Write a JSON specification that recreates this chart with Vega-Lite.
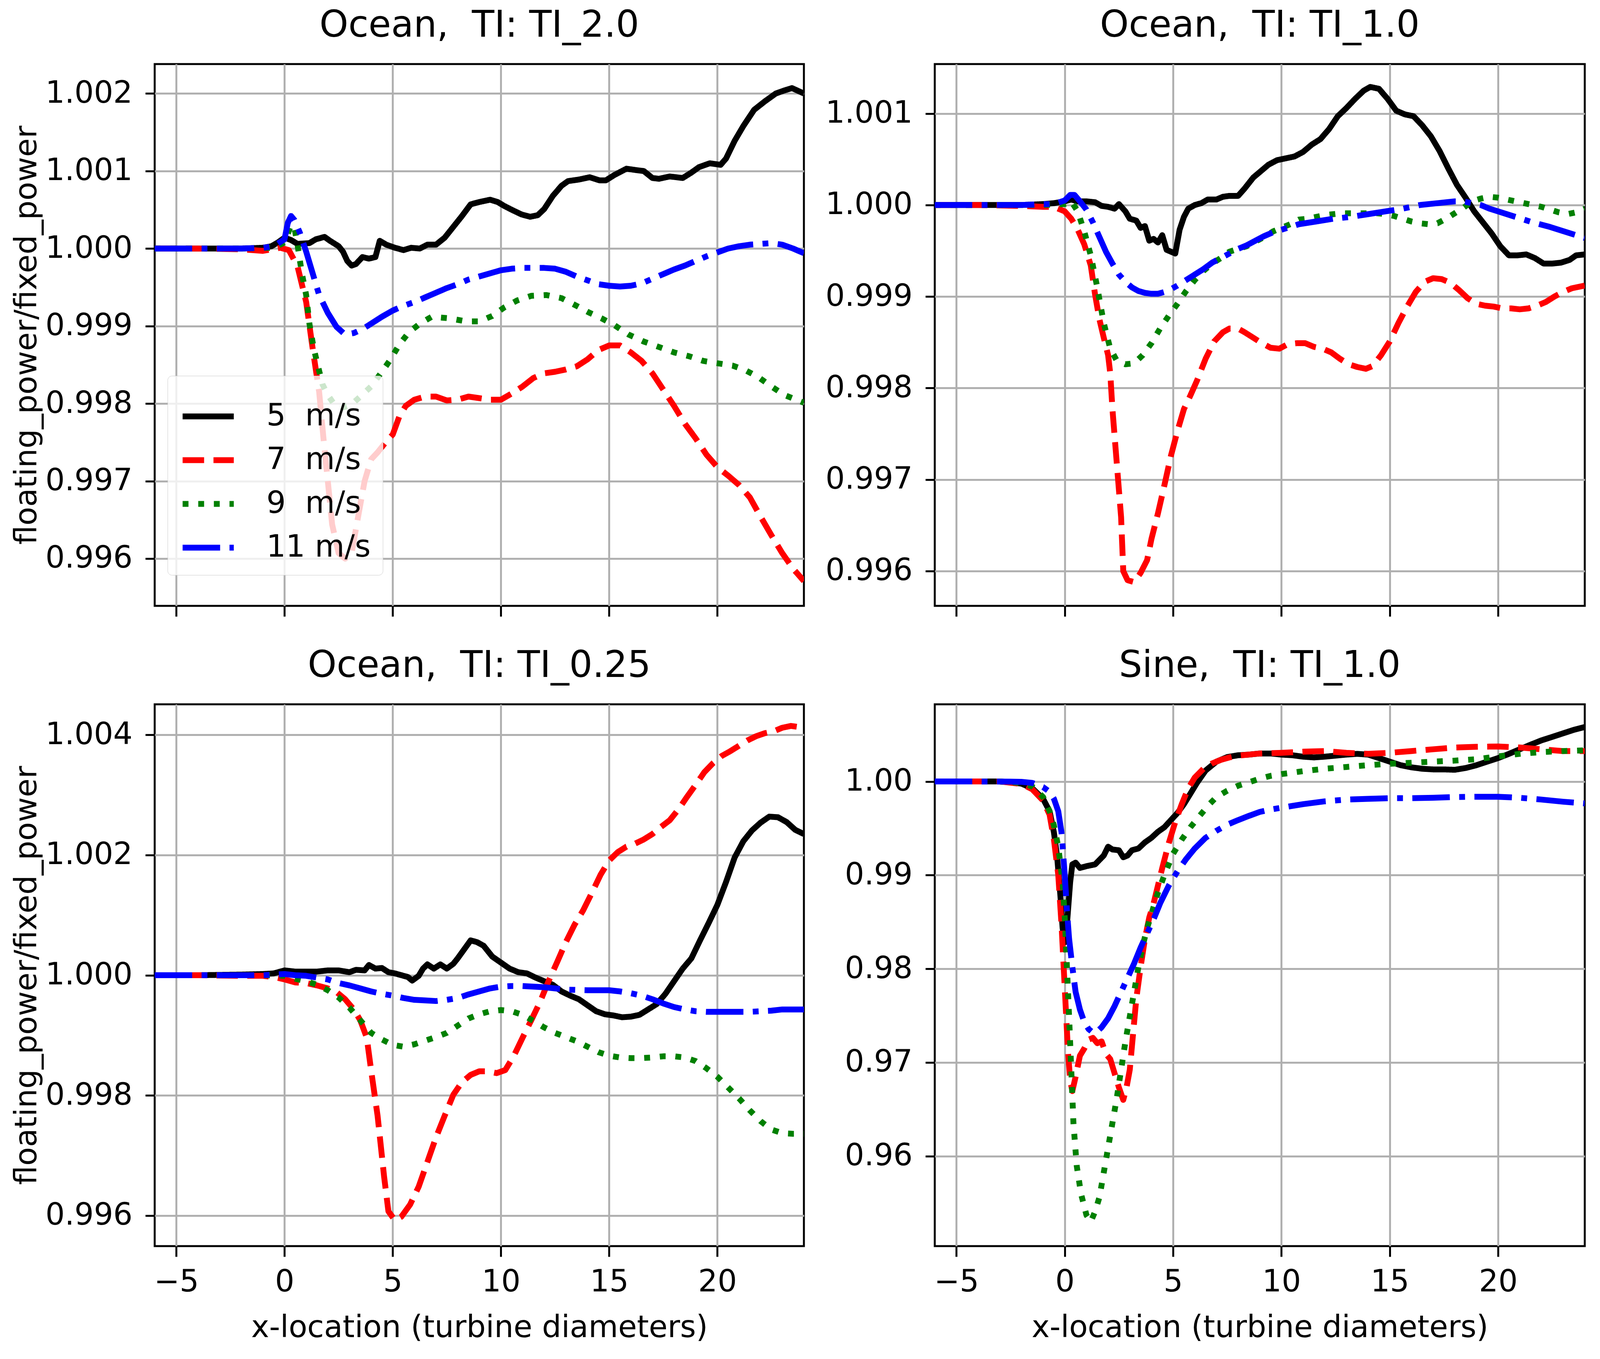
{
"$schema":"https://vega.github.io/schema/vega-lite/v6.json",
"background":"white",
"padding":{"left":27,"top":16,"right":30,"bottom":30},
"spacing":{"row":72,"column":49},
"columns":2,
"resolve":{"scale":{"color":"independent","strokeDash":"independent","x":"independent","y":"independent"},"legend":{"color":"independent","strokeDash":"independent"}},
"datasets":{"rows":[
{"p":"A","s":"5","x":-6,"y":1},{"p":"A","s":"5","x":-4,"y":1},{"p":"A","s":"5","x":-2,"y":1},{"p":"A","s":"5","x":-1,"y":1.00001},{"p":"A","s":"5","x":-0.6,"y":1.00003},{"p":"A","s":"5","x":-0.3,"y":1.00008},{"p":"A","s":"5","x":0,"y":1.00014},{"p":"A","s":"5","x":0.3,"y":1.00011},{"p":"A","s":"5","x":0.6,"y":1.00006},{"p":"A","s":"5","x":1.15,"y":1.00007},{"p":"A","s":"5","x":1.45,"y":1.00012},{"p":"A","s":"5","x":1.85,"y":1.00015},{"p":"A","s":"5","x":2.1,"y":1.0001},{"p":"A","s":"5","x":2.5,"y":1.00003},{"p":"A","s":"5","x":2.7,"y":0.99996},{"p":"A","s":"5","x":2.9,"y":0.99984},{"p":"A","s":"5","x":3.1,"y":0.99978},{"p":"A","s":"5","x":3.3,"y":0.9998},{"p":"A","s":"5","x":3.6,"y":0.99989},{"p":"A","s":"5","x":3.9,"y":0.99987},{"p":"A","s":"5","x":4.2,"y":0.99989},{"p":"A","s":"5","x":4.4,"y":1.0001},{"p":"A","s":"5","x":4.7,"y":1.00005},{"p":"A","s":"5","x":5.1,"y":1.00001},{"p":"A","s":"5","x":5.5,"y":0.99998},{"p":"A","s":"5","x":5.85,"y":1.00001},{"p":"A","s":"5","x":6.25,"y":1.0},{"p":"A","s":"5","x":6.6,"y":1.00005},{"p":"A","s":"5","x":7.0,"y":1.00005},{"p":"A","s":"5","x":7.4,"y":1.00014},{"p":"A","s":"5","x":7.8,"y":1.00028},{"p":"A","s":"5","x":8.2,"y":1.00042},{"p":"A","s":"5","x":8.6,"y":1.00057},{"p":"A","s":"5","x":9.0,"y":1.0006},{"p":"A","s":"5","x":9.5,"y":1.00063},{"p":"A","s":"5","x":9.85,"y":1.0006},{"p":"A","s":"5","x":10.15,"y":1.00055},{"p":"A","s":"5","x":10.5,"y":1.0005},{"p":"A","s":"5","x":10.95,"y":1.00044},{"p":"A","s":"5","x":11.35,"y":1.00041},{"p":"A","s":"5","x":11.7,"y":1.00043},{"p":"A","s":"5","x":12.0,"y":1.00051},{"p":"A","s":"5","x":12.4,"y":1.00068},{"p":"A","s":"5","x":12.8,"y":1.00081},{"p":"A","s":"5","x":13.1,"y":1.00087},{"p":"A","s":"5","x":13.6,"y":1.00089},{"p":"A","s":"5","x":14.1,"y":1.00092},{"p":"A","s":"5","x":14.55,"y":1.00088},{"p":"A","s":"5","x":14.85,"y":1.00088},{"p":"A","s":"5","x":15.25,"y":1.00095},{"p":"A","s":"5","x":15.8,"y":1.00103},{"p":"A","s":"5","x":16.3,"y":1.00101},{"p":"A","s":"5","x":16.6,"y":1.001},{"p":"A","s":"5","x":17.0,"y":1.00091},{"p":"A","s":"5","x":17.3,"y":1.0009},{"p":"A","s":"5","x":17.8,"y":1.00093},{"p":"A","s":"5","x":18.4,"y":1.00091},{"p":"A","s":"5","x":18.8,"y":1.00098},{"p":"A","s":"5","x":19.15,"y":1.00105},{"p":"A","s":"5","x":19.65,"y":1.0011},{"p":"A","s":"5","x":20.15,"y":1.00108},{"p":"A","s":"5","x":20.4,"y":1.00116},{"p":"A","s":"5","x":20.8,"y":1.00139},{"p":"A","s":"5","x":21.2,"y":1.00158},{"p":"A","s":"5","x":21.7,"y":1.00179},{"p":"A","s":"5","x":22.2,"y":1.0019},{"p":"A","s":"5","x":22.7,"y":1.002},{"p":"A","s":"5","x":23.1,"y":1.00204},{"p":"A","s":"5","x":23.45,"y":1.00207},{"p":"A","s":"5","x":24,"y":1.002},
{"p":"A","s":"7","x":-6,"y":1},{"p":"A","s":"7","x":-4,"y":1},{"p":"A","s":"7","x":-2,"y":0.99999},{"p":"A","s":"7","x":-1,"y":0.99997},{"p":"A","s":"7","x":-0.2,"y":1.00001},{"p":"A","s":"7","x":0.2,"y":0.99998},{"p":"A","s":"7","x":0.6,"y":0.99977},{"p":"A","s":"7","x":1.0,"y":0.99931},{"p":"A","s":"7","x":1.3,"y":0.99871},{"p":"A","s":"7","x":1.6,"y":0.99815},{"p":"A","s":"7","x":1.8,"y":0.99755},{"p":"A","s":"7","x":2.0,"y":0.997},{"p":"A","s":"7","x":2.2,"y":0.99644},{"p":"A","s":"7","x":2.5,"y":0.99607},{"p":"A","s":"7","x":2.8,"y":0.996},{"p":"A","s":"7","x":3.1,"y":0.99607},{"p":"A","s":"7","x":3.4,"y":0.99654},{"p":"A","s":"7","x":3.7,"y":0.997},{"p":"A","s":"7","x":4.0,"y":0.99728},{"p":"A","s":"7","x":4.3,"y":0.99737},{"p":"A","s":"7","x":4.7,"y":0.99751},{"p":"A","s":"7","x":5.0,"y":0.9976},{"p":"A","s":"7","x":5.3,"y":0.99783},{"p":"A","s":"7","x":5.6,"y":0.99797},{"p":"A","s":"7","x":6.0,"y":0.99805},{"p":"A","s":"7","x":6.5,"y":0.99809},{"p":"A","s":"7","x":7.0,"y":0.99809},{"p":"A","s":"7","x":7.5,"y":0.99804},{"p":"A","s":"7","x":8.0,"y":0.99805},{"p":"A","s":"7","x":8.5,"y":0.99809},{"p":"A","s":"7","x":9.0,"y":0.99807},{"p":"A","s":"7","x":9.5,"y":0.99805},{"p":"A","s":"7","x":10.0,"y":0.99805},{"p":"A","s":"7","x":10.5,"y":0.99813},{"p":"A","s":"7","x":11.0,"y":0.99822},{"p":"A","s":"7","x":11.5,"y":0.99833},{"p":"A","s":"7","x":12.0,"y":0.99839},{"p":"A","s":"7","x":12.5,"y":0.99841},{"p":"A","s":"7","x":13.0,"y":0.99844},{"p":"A","s":"7","x":13.5,"y":0.99848},{"p":"A","s":"7","x":14.0,"y":0.99857},{"p":"A","s":"7","x":14.5,"y":0.99869},{"p":"A","s":"7","x":15.0,"y":0.99875},{"p":"A","s":"7","x":15.5,"y":0.99875},{"p":"A","s":"7","x":16.0,"y":0.99866},{"p":"A","s":"7","x":16.5,"y":0.99855},{"p":"A","s":"7","x":17.0,"y":0.99839},{"p":"A","s":"7","x":17.5,"y":0.99818},{"p":"A","s":"7","x":18.0,"y":0.99797},{"p":"A","s":"7","x":18.5,"y":0.99774},{"p":"A","s":"7","x":19.0,"y":0.99755},{"p":"A","s":"7","x":19.5,"y":0.99734},{"p":"A","s":"7","x":20.0,"y":0.99718},{"p":"A","s":"7","x":20.5,"y":0.99707},{"p":"A","s":"7","x":21.0,"y":0.99695},{"p":"A","s":"7","x":21.5,"y":0.99679},{"p":"A","s":"7","x":22.0,"y":0.99654},{"p":"A","s":"7","x":22.5,"y":0.9963},{"p":"A","s":"7","x":23.0,"y":0.99607},{"p":"A","s":"7","x":23.5,"y":0.99587},{"p":"A","s":"7","x":24,"y":0.99571},
{"p":"A","s":"9","x":-6,"y":1},{"p":"A","s":"9","x":-4,"y":1},{"p":"A","s":"9","x":-2,"y":1},{"p":"A","s":"9","x":-0.5,"y":1.00001},{"p":"A","s":"9","x":0,"y":1.00008},{"p":"A","s":"9","x":0.3,"y":1.0003},{"p":"A","s":"9","x":0.45,"y":1.00028},{"p":"A","s":"9","x":0.6,"y":1.00005},{"p":"A","s":"9","x":0.8,"y":0.99968},{"p":"A","s":"9","x":1.0,"y":0.9994},{"p":"A","s":"9","x":1.15,"y":0.99903},{"p":"A","s":"9","x":1.35,"y":0.99871},{"p":"A","s":"9","x":1.55,"y":0.99848},{"p":"A","s":"9","x":1.75,"y":0.99825},{"p":"A","s":"9","x":2.0,"y":0.99811},{"p":"A","s":"9","x":2.3,"y":0.99799},{"p":"A","s":"9","x":2.7,"y":0.99795},{"p":"A","s":"9","x":3.1,"y":0.99799},{"p":"A","s":"9","x":3.5,"y":0.99809},{"p":"A","s":"9","x":4.0,"y":0.99822},{"p":"A","s":"9","x":4.5,"y":0.99841},{"p":"A","s":"9","x":4.9,"y":0.99857},{"p":"A","s":"9","x":5.3,"y":0.99876},{"p":"A","s":"9","x":5.75,"y":0.99892},{"p":"A","s":"9","x":6.25,"y":0.99903},{"p":"A","s":"9","x":6.8,"y":0.99912},{"p":"A","s":"9","x":7.6,"y":0.9991},{"p":"A","s":"9","x":8.4,"y":0.99906},{"p":"A","s":"9","x":9.0,"y":0.99906},{"p":"A","s":"9","x":9.6,"y":0.99913},{"p":"A","s":"9","x":10.15,"y":0.99924},{"p":"A","s":"9","x":10.75,"y":0.99933},{"p":"A","s":"9","x":11.4,"y":0.99939},{"p":"A","s":"9","x":12.1,"y":0.9994},{"p":"A","s":"9","x":12.8,"y":0.99936},{"p":"A","s":"9","x":13.5,"y":0.99926},{"p":"A","s":"9","x":14.1,"y":0.99917},{"p":"A","s":"9","x":14.65,"y":0.9991},{"p":"A","s":"9","x":15.25,"y":0.99901},{"p":"A","s":"9","x":15.9,"y":0.99889},{"p":"A","s":"9","x":16.6,"y":0.9988},{"p":"A","s":"9","x":17.3,"y":0.99873},{"p":"A","s":"9","x":18.0,"y":0.99866},{"p":"A","s":"9","x":18.7,"y":0.99861},{"p":"A","s":"9","x":19.35,"y":0.99855},{"p":"A","s":"9","x":20.0,"y":0.99852},{"p":"A","s":"9","x":20.7,"y":0.99849},{"p":"A","s":"9","x":21.3,"y":0.99843},{"p":"A","s":"9","x":21.9,"y":0.99834},{"p":"A","s":"9","x":22.5,"y":0.99822},{"p":"A","s":"9","x":23.1,"y":0.99811},{"p":"A","s":"9","x":24,"y":0.99801},
{"p":"A","s":"11","x":-6,"y":1},{"p":"A","s":"11","x":-4,"y":1},{"p":"A","s":"11","x":-2,"y":1},{"p":"A","s":"11","x":-1,"y":1.00001},{"p":"A","s":"11","x":-0.5,"y":1.00003},{"p":"A","s":"11","x":0,"y":1.00012},{"p":"A","s":"11","x":0.15,"y":1.00033},{"p":"A","s":"11","x":0.3,"y":1.00042},{"p":"A","s":"11","x":0.45,"y":1.00037},{"p":"A","s":"11","x":0.7,"y":1.00021},{"p":"A","s":"11","x":1.0,"y":0.99996},{"p":"A","s":"11","x":1.3,"y":0.99968},{"p":"A","s":"11","x":1.6,"y":0.9994},{"p":"A","s":"11","x":2.0,"y":0.99917},{"p":"A","s":"11","x":2.4,"y":0.99899},{"p":"A","s":"11","x":2.8,"y":0.99889},{"p":"A","s":"11","x":3.2,"y":0.99891},{"p":"A","s":"11","x":3.6,"y":0.99896},{"p":"A","s":"11","x":4.0,"y":0.99903},{"p":"A","s":"11","x":4.5,"y":0.99912},{"p":"A","s":"11","x":5.0,"y":0.9992},{"p":"A","s":"11","x":5.5,"y":0.99926},{"p":"A","s":"11","x":6.0,"y":0.99931},{"p":"A","s":"11","x":6.5,"y":0.99937},{"p":"A","s":"11","x":7.0,"y":0.99943},{"p":"A","s":"11","x":7.5,"y":0.99949},{"p":"A","s":"11","x":8.0,"y":0.99954},{"p":"A","s":"11","x":8.5,"y":0.9996},{"p":"A","s":"11","x":9.0,"y":0.99964},{"p":"A","s":"11","x":9.5,"y":0.99968},{"p":"A","s":"11","x":10.0,"y":0.99972},{"p":"A","s":"11","x":10.5,"y":0.99974},{"p":"A","s":"11","x":11.0,"y":0.99975},{"p":"A","s":"11","x":12.0,"y":0.99975},{"p":"A","s":"11","x":12.5,"y":0.99974},{"p":"A","s":"11","x":13.0,"y":0.9997},{"p":"A","s":"11","x":13.5,"y":0.99964},{"p":"A","s":"11","x":14.0,"y":0.99959},{"p":"A","s":"11","x":14.5,"y":0.99954},{"p":"A","s":"11","x":15.0,"y":0.99952},{"p":"A","s":"11","x":15.5,"y":0.99951},{"p":"A","s":"11","x":16.0,"y":0.99952},{"p":"A","s":"11","x":16.5,"y":0.99955},{"p":"A","s":"11","x":17.0,"y":0.99961},{"p":"A","s":"11","x":17.5,"y":0.99967},{"p":"A","s":"11","x":18.0,"y":0.99973},{"p":"A","s":"11","x":18.5,"y":0.99978},{"p":"A","s":"11","x":19.0,"y":0.99984},{"p":"A","s":"11","x":19.5,"y":0.9999},{"p":"A","s":"11","x":20.0,"y":0.99995},{"p":"A","s":"11","x":20.5,"y":1.0},{"p":"A","s":"11","x":21.0,"y":1.00003},{"p":"A","s":"11","x":21.5,"y":1.00005},{"p":"A","s":"11","x":22.0,"y":1.00006},{"p":"A","s":"11","x":22.5,"y":1.00007},{"p":"A","s":"11","x":23.0,"y":1.00005},{"p":"A","s":"11","x":23.5,"y":1.0},{"p":"A","s":"11","x":24,"y":0.99994},
{"p":"B","s":"5","x":-6,"y":1},{"p":"B","s":"5","x":-4,"y":1},{"p":"B","s":"5","x":-2,"y":1},{"p":"B","s":"5","x":-1,"y":1.00001},{"p":"B","s":"5","x":-0.5,"y":1.00002},{"p":"B","s":"5","x":0,"y":1.00004},{"p":"B","s":"5","x":0.3,"y":1.00006},{"p":"B","s":"5","x":0.6,"y":1.00004},{"p":"B","s":"5","x":1.0,"y":1.00004},{"p":"B","s":"5","x":1.4,"y":1.00003},{"p":"B","s":"5","x":1.7,"y":0.99999},{"p":"B","s":"5","x":2.0,"y":0.99998},{"p":"B","s":"5","x":2.3,"y":0.99996},{"p":"B","s":"5","x":2.5,"y":1.00001},{"p":"B","s":"5","x":2.8,"y":0.99993},{"p":"B","s":"5","x":3.0,"y":0.99985},{"p":"B","s":"5","x":3.3,"y":0.99983},{"p":"B","s":"5","x":3.5,"y":0.99975},{"p":"B","s":"5","x":3.7,"y":0.99977},{"p":"B","s":"5","x":3.9,"y":0.99961},{"p":"B","s":"5","x":4.1,"y":0.99963},{"p":"B","s":"5","x":4.3,"y":0.99959},{"p":"B","s":"5","x":4.5,"y":0.99967},{"p":"B","s":"5","x":4.7,"y":0.99951},{"p":"B","s":"5","x":4.9,"y":0.99949},{"p":"B","s":"5","x":5.1,"y":0.99947},{"p":"B","s":"5","x":5.3,"y":0.99973},{"p":"B","s":"5","x":5.5,"y":0.99987},{"p":"B","s":"5","x":5.7,"y":0.99996},{"p":"B","s":"5","x":6.0,"y":1.0},{"p":"B","s":"5","x":6.3,"y":1.00002},{"p":"B","s":"5","x":6.6,"y":1.00006},{"p":"B","s":"5","x":7.0,"y":1.00006},{"p":"B","s":"5","x":7.3,"y":1.00009},{"p":"B","s":"5","x":7.6,"y":1.0001},{"p":"B","s":"5","x":8.0,"y":1.0001},{"p":"B","s":"5","x":8.3,"y":1.00018},{"p":"B","s":"5","x":8.7,"y":1.0003},{"p":"B","s":"5","x":9.0,"y":1.00036},{"p":"B","s":"5","x":9.4,"y":1.00044},{"p":"B","s":"5","x":9.8,"y":1.00049},{"p":"B","s":"5","x":10.2,"y":1.00051},{"p":"B","s":"5","x":10.6,"y":1.00053},{"p":"B","s":"5","x":11.0,"y":1.00058},{"p":"B","s":"5","x":11.4,"y":1.00066},{"p":"B","s":"5","x":11.8,"y":1.00072},{"p":"B","s":"5","x":12.2,"y":1.00083},{"p":"B","s":"5","x":12.6,"y":1.00097},{"p":"B","s":"5","x":13.0,"y":1.00106},{"p":"B","s":"5","x":13.4,"y":1.00116},{"p":"B","s":"5","x":13.8,"y":1.00125},{"p":"B","s":"5","x":14.1,"y":1.00129},{"p":"B","s":"5","x":14.5,"y":1.00127},{"p":"B","s":"5","x":14.9,"y":1.00116},{"p":"B","s":"5","x":15.3,"y":1.00103},{"p":"B","s":"5","x":15.7,"y":1.00099},{"p":"B","s":"5","x":16.1,"y":1.00097},{"p":"B","s":"5","x":16.5,"y":1.00087},{"p":"B","s":"5","x":16.9,"y":1.00075},{"p":"B","s":"5","x":17.3,"y":1.00059},{"p":"B","s":"5","x":17.7,"y":1.0004},{"p":"B","s":"5","x":18.1,"y":1.00022},{"p":"B","s":"5","x":18.5,"y":1.00008},{"p":"B","s":"5","x":18.9,"y":0.99993},{"p":"B","s":"5","x":19.3,"y":0.99981},{"p":"B","s":"5","x":19.7,"y":0.99969},{"p":"B","s":"5","x":20.1,"y":0.99955},{"p":"B","s":"5","x":20.5,"y":0.99945},{"p":"B","s":"5","x":20.9,"y":0.99945},{"p":"B","s":"5","x":21.3,"y":0.99946},{"p":"B","s":"5","x":21.7,"y":0.99942},{"p":"B","s":"5","x":22.1,"y":0.99936},{"p":"B","s":"5","x":22.5,"y":0.99936},{"p":"B","s":"5","x":22.9,"y":0.99937},{"p":"B","s":"5","x":23.3,"y":0.9994},{"p":"B","s":"5","x":23.6,"y":0.99945},{"p":"B","s":"5","x":24,"y":0.99946},
{"p":"B","s":"7","x":-6,"y":1},{"p":"B","s":"7","x":-4,"y":1},{"p":"B","s":"7","x":-2,"y":0.99999},{"p":"B","s":"7","x":-1,"y":0.99998},{"p":"B","s":"7","x":-0.5,"y":0.99998},{"p":"B","s":"7","x":0,"y":0.99993},{"p":"B","s":"7","x":0.3,"y":0.99985},{"p":"B","s":"7","x":0.6,"y":0.99973},{"p":"B","s":"7","x":0.9,"y":0.99957},{"p":"B","s":"7","x":1.2,"y":0.99934},{"p":"B","s":"7","x":1.4,"y":0.99902},{"p":"B","s":"7","x":1.6,"y":0.99875},{"p":"B","s":"7","x":1.8,"y":0.99855},{"p":"B","s":"7","x":2.0,"y":0.99836},{"p":"B","s":"7","x":2.1,"y":0.99816},{"p":"B","s":"7","x":2.2,"y":0.99777},{"p":"B","s":"7","x":2.4,"y":0.99718},{"p":"B","s":"7","x":2.6,"y":0.99659},{"p":"B","s":"7","x":2.7,"y":0.996},{"p":"B","s":"7","x":2.9,"y":0.9959},{"p":"B","s":"7","x":3.2,"y":0.99588},{"p":"B","s":"7","x":3.5,"y":0.99598},{"p":"B","s":"7","x":3.8,"y":0.99612},{"p":"B","s":"7","x":4.0,"y":0.99635},{"p":"B","s":"7","x":4.3,"y":0.99663},{"p":"B","s":"7","x":4.6,"y":0.99694},{"p":"B","s":"7","x":4.9,"y":0.99726},{"p":"B","s":"7","x":5.2,"y":0.99753},{"p":"B","s":"7","x":5.5,"y":0.99777},{"p":"B","s":"7","x":5.8,"y":0.99792},{"p":"B","s":"7","x":6.1,"y":0.99808},{"p":"B","s":"7","x":6.5,"y":0.99832},{"p":"B","s":"7","x":6.9,"y":0.99851},{"p":"B","s":"7","x":7.3,"y":0.99861},{"p":"B","s":"7","x":7.6,"y":0.99865},{"p":"B","s":"7","x":8.0,"y":0.99865},{"p":"B","s":"7","x":8.3,"y":0.99861},{"p":"B","s":"7","x":8.7,"y":0.99855},{"p":"B","s":"7","x":9.1,"y":0.99849},{"p":"B","s":"7","x":9.5,"y":0.99844},{"p":"B","s":"7","x":9.9,"y":0.99843},{"p":"B","s":"7","x":10.3,"y":0.99848},{"p":"B","s":"7","x":10.7,"y":0.99849},{"p":"B","s":"7","x":11.1,"y":0.99849},{"p":"B","s":"7","x":11.5,"y":0.99845},{"p":"B","s":"7","x":11.9,"y":0.99843},{"p":"B","s":"7","x":12.3,"y":0.99839},{"p":"B","s":"7","x":12.7,"y":0.99832},{"p":"B","s":"7","x":13.1,"y":0.99826},{"p":"B","s":"7","x":13.5,"y":0.99823},{"p":"B","s":"7","x":13.9,"y":0.99821},{"p":"B","s":"7","x":14.2,"y":0.99824},{"p":"B","s":"7","x":14.6,"y":0.99836},{"p":"B","s":"7","x":15.0,"y":0.99851},{"p":"B","s":"7","x":15.4,"y":0.99871},{"p":"B","s":"7","x":15.8,"y":0.99889},{"p":"B","s":"7","x":16.2,"y":0.99905},{"p":"B","s":"7","x":16.6,"y":0.99916},{"p":"B","s":"7","x":17.0,"y":0.9992},{"p":"B","s":"7","x":17.4,"y":0.99919},{"p":"B","s":"7","x":17.8,"y":0.99915},{"p":"B","s":"7","x":18.2,"y":0.99907},{"p":"B","s":"7","x":18.6,"y":0.99898},{"p":"B","s":"7","x":19.0,"y":0.99892},{"p":"B","s":"7","x":19.4,"y":0.9989},{"p":"B","s":"7","x":19.8,"y":0.99889},{"p":"B","s":"7","x":20.2,"y":0.99887},{"p":"B","s":"7","x":20.6,"y":0.99887},{"p":"B","s":"7","x":21.0,"y":0.99886},{"p":"B","s":"7","x":21.4,"y":0.99887},{"p":"B","s":"7","x":21.8,"y":0.9989},{"p":"B","s":"7","x":22.2,"y":0.99894},{"p":"B","s":"7","x":22.6,"y":0.999},{"p":"B","s":"7","x":23.0,"y":0.99905},{"p":"B","s":"7","x":23.4,"y":0.99909},{"p":"B","s":"7","x":24,"y":0.99912},
{"p":"B","s":"9","x":-6,"y":1},{"p":"B","s":"9","x":-4,"y":1},{"p":"B","s":"9","x":-2,"y":1},{"p":"B","s":"9","x":-1,"y":1},{"p":"B","s":"9","x":0,"y":1.00001},{"p":"B","s":"9","x":0.3,"y":1.00004},{"p":"B","s":"9","x":0.6,"y":0.99993},{"p":"B","s":"9","x":0.9,"y":0.99971},{"p":"B","s":"9","x":1.2,"y":0.99945},{"p":"B","s":"9","x":1.5,"y":0.9991},{"p":"B","s":"9","x":1.8,"y":0.99871},{"p":"B","s":"9","x":2.1,"y":0.99843},{"p":"B","s":"9","x":2.4,"y":0.9983},{"p":"B","s":"9","x":2.8,"y":0.99826},{"p":"B","s":"9","x":3.2,"y":0.99827},{"p":"B","s":"9","x":3.6,"y":0.99836},{"p":"B","s":"9","x":4.0,"y":0.99849},{"p":"B","s":"9","x":4.4,"y":0.99865},{"p":"B","s":"9","x":4.8,"y":0.99879},{"p":"B","s":"9","x":5.2,"y":0.99892},{"p":"B","s":"9","x":5.6,"y":0.99906},{"p":"B","s":"9","x":6.0,"y":0.99918},{"p":"B","s":"9","x":6.4,"y":0.99928},{"p":"B","s":"9","x":6.8,"y":0.99936},{"p":"B","s":"9","x":7.2,"y":0.99942},{"p":"B","s":"9","x":7.6,"y":0.99949},{"p":"B","s":"9","x":8.0,"y":0.99952},{"p":"B","s":"9","x":8.4,"y":0.99955},{"p":"B","s":"9","x":8.8,"y":0.9996},{"p":"B","s":"9","x":9.2,"y":0.99965},{"p":"B","s":"9","x":9.6,"y":0.99971},{"p":"B","s":"9","x":10.0,"y":0.99975},{"p":"B","s":"9","x":10.4,"y":0.99979},{"p":"B","s":"9","x":10.8,"y":0.99984},{"p":"B","s":"9","x":11.2,"y":0.99985},{"p":"B","s":"9","x":11.6,"y":0.99987},{"p":"B","s":"9","x":12.0,"y":0.99989},{"p":"B","s":"9","x":12.8,"y":0.99991},{"p":"B","s":"9","x":13.6,"y":0.99991},{"p":"B","s":"9","x":14.4,"y":0.99991},{"p":"B","s":"9","x":14.8,"y":0.9999},{"p":"B","s":"9","x":15.2,"y":0.99988},{"p":"B","s":"9","x":15.6,"y":0.99985},{"p":"B","s":"9","x":16.0,"y":0.99982},{"p":"B","s":"9","x":16.4,"y":0.9998},{"p":"B","s":"9","x":16.8,"y":0.99979},{"p":"B","s":"9","x":17.2,"y":0.9998},{"p":"B","s":"9","x":17.6,"y":0.99985},{"p":"B","s":"9","x":18.0,"y":0.99991},{"p":"B","s":"9","x":18.4,"y":0.99997},{"p":"B","s":"9","x":18.8,"y":1.00004},{"p":"B","s":"9","x":19.2,"y":1.00007},{"p":"B","s":"9","x":19.6,"y":1.00009},{"p":"B","s":"9","x":20.0,"y":1.00008},{"p":"B","s":"9","x":20.4,"y":1.00006},{"p":"B","s":"9","x":20.8,"y":1.00004},{"p":"B","s":"9","x":21.2,"y":1.00002},{"p":"B","s":"9","x":21.6,"y":1.0},{"p":"B","s":"9","x":22.0,"y":0.99998},{"p":"B","s":"9","x":22.4,"y":0.99995},{"p":"B","s":"9","x":22.8,"y":0.99992},{"p":"B","s":"9","x":23.2,"y":0.9999},{"p":"B","s":"9","x":23.6,"y":0.99992},{"p":"B","s":"9","x":24,"y":0.99996},
{"p":"B","s":"11","x":-6,"y":1},{"p":"B","s":"11","x":-4,"y":1},{"p":"B","s":"11","x":-2,"y":1},{"p":"B","s":"11","x":-1,"y":1.00001},{"p":"B","s":"11","x":-0.5,"y":1.00001},{"p":"B","s":"11","x":0,"y":1.00005},{"p":"B","s":"11","x":0.25,"y":1.00011},{"p":"B","s":"11","x":0.45,"y":1.00011},{"p":"B","s":"11","x":0.7,"y":1.00004},{"p":"B","s":"11","x":1.0,"y":0.99995},{"p":"B","s":"11","x":1.3,"y":0.99981},{"p":"B","s":"11","x":1.6,"y":0.99965},{"p":"B","s":"11","x":1.9,"y":0.99949},{"p":"B","s":"11","x":2.2,"y":0.99936},{"p":"B","s":"11","x":2.5,"y":0.99924},{"p":"B","s":"11","x":2.8,"y":0.99916},{"p":"B","s":"11","x":3.1,"y":0.9991},{"p":"B","s":"11","x":3.4,"y":0.99906},{"p":"B","s":"11","x":3.7,"y":0.99904},{"p":"B","s":"11","x":4.0,"y":0.99903},{"p":"B","s":"11","x":4.3,"y":0.99903},{"p":"B","s":"11","x":4.6,"y":0.99905},{"p":"B","s":"11","x":4.9,"y":0.99908},{"p":"B","s":"11","x":5.2,"y":0.99912},{"p":"B","s":"11","x":5.6,"y":0.99918},{"p":"B","s":"11","x":6.0,"y":0.99924},{"p":"B","s":"11","x":6.4,"y":0.9993},{"p":"B","s":"11","x":6.8,"y":0.99937},{"p":"B","s":"11","x":7.2,"y":0.99942},{"p":"B","s":"11","x":7.6,"y":0.99947},{"p":"B","s":"11","x":8.0,"y":0.99952},{"p":"B","s":"11","x":8.4,"y":0.99956},{"p":"B","s":"11","x":8.8,"y":0.99961},{"p":"B","s":"11","x":9.2,"y":0.99966},{"p":"B","s":"11","x":9.6,"y":0.9997},{"p":"B","s":"11","x":10.0,"y":0.99973},{"p":"B","s":"11","x":10.8,"y":0.99979},{"p":"B","s":"11","x":11.6,"y":0.99982},{"p":"B","s":"11","x":12.4,"y":0.99985},{"p":"B","s":"11","x":13.2,"y":0.99987},{"p":"B","s":"11","x":14.0,"y":0.9999},{"p":"B","s":"11","x":14.8,"y":0.99993},{"p":"B","s":"11","x":15.6,"y":0.99996},{"p":"B","s":"11","x":16.4,"y":1.0},{"p":"B","s":"11","x":17.2,"y":1.00002},{"p":"B","s":"11","x":18.0,"y":1.00004},{"p":"B","s":"11","x":18.4,"y":1.00004},{"p":"B","s":"11","x":18.8,"y":1.00002},{"p":"B","s":"11","x":19.2,"y":1.0},{"p":"B","s":"11","x":19.6,"y":0.99996},{"p":"B","s":"11","x":20.0,"y":0.99993},{"p":"B","s":"11","x":20.8,"y":0.99987},{"p":"B","s":"11","x":21.6,"y":0.99981},{"p":"B","s":"11","x":22.4,"y":0.99976},{"p":"B","s":"11","x":23.2,"y":0.9997},{"p":"B","s":"11","x":24,"y":0.99964},
{"p":"C","s":"5","x":-6,"y":1},{"p":"C","s":"5","x":-4,"y":1},{"p":"C","s":"5","x":-2,"y":1.00001},{"p":"C","s":"5","x":-1,"y":1.00002},{"p":"C","s":"5","x":-0.5,"y":1.00003},{"p":"C","s":"5","x":0,"y":1.00008},{"p":"C","s":"5","x":0.5,"y":1.00006},{"p":"C","s":"5","x":1.0,"y":1.00006},{"p":"C","s":"5","x":1.5,"y":1.00006},{"p":"C","s":"5","x":2.0,"y":1.00008},{"p":"C","s":"5","x":2.5,"y":1.00008},{"p":"C","s":"5","x":3.0,"y":1.00005},{"p":"C","s":"5","x":3.3,"y":1.00009},{"p":"C","s":"5","x":3.7,"y":1.00008},{"p":"C","s":"5","x":3.9,"y":1.00017},{"p":"C","s":"5","x":4.2,"y":1.00011},{"p":"C","s":"5","x":4.5,"y":1.00012},{"p":"C","s":"5","x":4.8,"y":1.00005},{"p":"C","s":"5","x":5.1,"y":1.00003},{"p":"C","s":"5","x":5.4,"y":1.0},{"p":"C","s":"5","x":5.7,"y":0.99997},{"p":"C","s":"5","x":5.9,"y":0.99991},{"p":"C","s":"5","x":6.2,"y":0.99999},{"p":"C","s":"5","x":6.4,"y":1.00011},{"p":"C","s":"5","x":6.6,"y":1.00018},{"p":"C","s":"5","x":6.9,"y":1.00011},{"p":"C","s":"5","x":7.2,"y":1.00018},{"p":"C","s":"5","x":7.5,"y":1.00011},{"p":"C","s":"5","x":7.8,"y":1.00019},{"p":"C","s":"5","x":8.0,"y":1.00028},{"p":"C","s":"5","x":8.3,"y":1.00043},{"p":"C","s":"5","x":8.6,"y":1.00058},{"p":"C","s":"5","x":8.9,"y":1.00055},{"p":"C","s":"5","x":9.2,"y":1.00049},{"p":"C","s":"5","x":9.6,"y":1.00031},{"p":"C","s":"5","x":10.0,"y":1.00021},{"p":"C","s":"5","x":10.4,"y":1.00011},{"p":"C","s":"5","x":10.8,"y":1.00005},{"p":"C","s":"5","x":11.2,"y":1.00003},{"p":"C","s":"5","x":11.6,"y":0.99996},{"p":"C","s":"5","x":12.0,"y":0.9999},{"p":"C","s":"5","x":12.4,"y":0.99984},{"p":"C","s":"5","x":12.8,"y":0.99973},{"p":"C","s":"5","x":13.2,"y":0.99966},{"p":"C","s":"5","x":13.6,"y":0.9996},{"p":"C","s":"5","x":14.0,"y":0.9995},{"p":"C","s":"5","x":14.4,"y":0.9994},{"p":"C","s":"5","x":14.8,"y":0.99935},{"p":"C","s":"5","x":15.2,"y":0.99933},{"p":"C","s":"5","x":15.6,"y":0.9993},{"p":"C","s":"5","x":16.0,"y":0.99931},{"p":"C","s":"5","x":16.4,"y":0.99934},{"p":"C","s":"5","x":16.8,"y":0.99943},{"p":"C","s":"5","x":17.2,"y":0.99952},{"p":"C","s":"5","x":17.6,"y":0.99969},{"p":"C","s":"5","x":18.0,"y":0.9999},{"p":"C","s":"5","x":18.4,"y":1.00011},{"p":"C","s":"5","x":18.8,"y":1.00028},{"p":"C","s":"5","x":19.2,"y":1.00058},{"p":"C","s":"5","x":19.6,"y":1.00087},{"p":"C","s":"5","x":20.0,"y":1.00117},{"p":"C","s":"5","x":20.4,"y":1.00155},{"p":"C","s":"5","x":20.8,"y":1.00196},{"p":"C","s":"5","x":21.2,"y":1.00223},{"p":"C","s":"5","x":21.6,"y":1.00241},{"p":"C","s":"5","x":22.0,"y":1.00254},{"p":"C","s":"5","x":22.4,"y":1.00264},{"p":"C","s":"5","x":22.8,"y":1.00263},{"p":"C","s":"5","x":23.2,"y":1.00255},{"p":"C","s":"5","x":23.6,"y":1.00242},{"p":"C","s":"5","x":24,"y":1.00235},
{"p":"C","s":"7","x":-6,"y":1},{"p":"C","s":"7","x":-4,"y":1},{"p":"C","s":"7","x":-2,"y":0.99999},{"p":"C","s":"7","x":-1,"y":0.99999},{"p":"C","s":"7","x":-0.5,"y":0.99997},{"p":"C","s":"7","x":0,"y":0.99993},{"p":"C","s":"7","x":0.5,"y":0.99988},{"p":"C","s":"7","x":1.0,"y":0.99987},{"p":"C","s":"7","x":1.5,"y":0.99983},{"p":"C","s":"7","x":2.0,"y":0.99978},{"p":"C","s":"7","x":2.4,"y":0.99972},{"p":"C","s":"7","x":2.8,"y":0.9996},{"p":"C","s":"7","x":3.2,"y":0.99943},{"p":"C","s":"7","x":3.5,"y":0.99925},{"p":"C","s":"7","x":3.8,"y":0.99896},{"p":"C","s":"7","x":4.0,"y":0.99842},{"p":"C","s":"7","x":4.3,"y":0.99766},{"p":"C","s":"7","x":4.6,"y":0.99665},{"p":"C","s":"7","x":4.8,"y":0.99607},{"p":"C","s":"7","x":5.1,"y":0.99592},{"p":"C","s":"7","x":5.4,"y":0.99598},{"p":"C","s":"7","x":5.8,"y":0.99618},{"p":"C","s":"7","x":6.2,"y":0.99648},{"p":"C","s":"7","x":6.6,"y":0.99689},{"p":"C","s":"7","x":7.0,"y":0.9973},{"p":"C","s":"7","x":7.4,"y":0.99766},{"p":"C","s":"7","x":7.8,"y":0.99801},{"p":"C","s":"7","x":8.2,"y":0.99822},{"p":"C","s":"7","x":8.6,"y":0.99834},{"p":"C","s":"7","x":9.0,"y":0.9984},{"p":"C","s":"7","x":9.4,"y":0.9984},{"p":"C","s":"7","x":9.8,"y":0.99837},{"p":"C","s":"7","x":10.2,"y":0.99842},{"p":"C","s":"7","x":10.6,"y":0.99866},{"p":"C","s":"7","x":11.0,"y":0.99896},{"p":"C","s":"7","x":11.4,"y":0.99925},{"p":"C","s":"7","x":11.8,"y":0.99955},{"p":"C","s":"7","x":12.2,"y":0.9999},{"p":"C","s":"7","x":12.6,"y":1.00022},{"p":"C","s":"7","x":13.0,"y":1.00055},{"p":"C","s":"7","x":13.4,"y":1.00084},{"p":"C","s":"7","x":13.8,"y":1.00108},{"p":"C","s":"7","x":14.2,"y":1.00137},{"p":"C","s":"7","x":14.6,"y":1.00167},{"p":"C","s":"7","x":15.0,"y":1.00191},{"p":"C","s":"7","x":15.4,"y":1.00205},{"p":"C","s":"7","x":15.8,"y":1.00214},{"p":"C","s":"7","x":16.2,"y":1.00219},{"p":"C","s":"7","x":16.6,"y":1.00226},{"p":"C","s":"7","x":17.0,"y":1.00235},{"p":"C","s":"7","x":17.4,"y":1.00247},{"p":"C","s":"7","x":17.8,"y":1.00258},{"p":"C","s":"7","x":18.2,"y":1.00276},{"p":"C","s":"7","x":18.6,"y":1.00297},{"p":"C","s":"7","x":19.0,"y":1.00317},{"p":"C","s":"7","x":19.4,"y":1.00338},{"p":"C","s":"7","x":19.8,"y":1.00353},{"p":"C","s":"7","x":20.2,"y":1.00365},{"p":"C","s":"7","x":20.6,"y":1.00373},{"p":"C","s":"7","x":21.0,"y":1.00382},{"p":"C","s":"7","x":21.4,"y":1.00391},{"p":"C","s":"7","x":21.8,"y":1.00398},{"p":"C","s":"7","x":22.2,"y":1.00403},{"p":"C","s":"7","x":22.6,"y":1.00406},{"p":"C","s":"7","x":23.0,"y":1.00412},{"p":"C","s":"7","x":23.4,"y":1.00415},{"p":"C","s":"7","x":24,"y":1.00412},
{"p":"C","s":"9","x":-6,"y":1},{"p":"C","s":"9","x":-4,"y":1},{"p":"C","s":"9","x":-2,"y":1},{"p":"C","s":"9","x":-1,"y":1},{"p":"C","s":"9","x":0,"y":0.99999},{"p":"C","s":"9","x":0.5,"y":0.99994},{"p":"C","s":"9","x":1.0,"y":0.9999},{"p":"C","s":"9","x":1.5,"y":0.99984},{"p":"C","s":"9","x":2.0,"y":0.99975},{"p":"C","s":"9","x":2.5,"y":0.99963},{"p":"C","s":"9","x":3.0,"y":0.99946},{"p":"C","s":"9","x":3.5,"y":0.99925},{"p":"C","s":"9","x":4.0,"y":0.99904},{"p":"C","s":"9","x":4.5,"y":0.99893},{"p":"C","s":"9","x":5.0,"y":0.99884},{"p":"C","s":"9","x":5.5,"y":0.99881},{"p":"C","s":"9","x":6.0,"y":0.99885},{"p":"C","s":"9","x":6.5,"y":0.99891},{"p":"C","s":"9","x":7.0,"y":0.99897},{"p":"C","s":"9","x":7.5,"y":0.99904},{"p":"C","s":"9","x":8.0,"y":0.99916},{"p":"C","s":"9","x":8.5,"y":0.99928},{"p":"C","s":"9","x":9.0,"y":0.99935},{"p":"C","s":"9","x":9.5,"y":0.9994},{"p":"C","s":"9","x":10.0,"y":0.99942},{"p":"C","s":"9","x":10.5,"y":0.9994},{"p":"C","s":"9","x":11.0,"y":0.99934},{"p":"C","s":"9","x":11.5,"y":0.99924},{"p":"C","s":"9","x":12.0,"y":0.99913},{"p":"C","s":"9","x":12.5,"y":0.99904},{"p":"C","s":"9","x":13.0,"y":0.99897},{"p":"C","s":"9","x":13.5,"y":0.9989},{"p":"C","s":"9","x":14.0,"y":0.99881},{"p":"C","s":"9","x":14.5,"y":0.99872},{"p":"C","s":"9","x":15.0,"y":0.99866},{"p":"C","s":"9","x":15.5,"y":0.99863},{"p":"C","s":"9","x":16.0,"y":0.99862},{"p":"C","s":"9","x":16.5,"y":0.99862},{"p":"C","s":"9","x":17.0,"y":0.99863},{"p":"C","s":"9","x":17.5,"y":0.99865},{"p":"C","s":"9","x":18.0,"y":0.99865},{"p":"C","s":"9","x":18.5,"y":0.99863},{"p":"C","s":"9","x":19.0,"y":0.99857},{"p":"C","s":"9","x":19.5,"y":0.99845},{"p":"C","s":"9","x":20.0,"y":0.99831},{"p":"C","s":"9","x":20.5,"y":0.99813},{"p":"C","s":"9","x":21.0,"y":0.99795},{"p":"C","s":"9","x":21.5,"y":0.99775},{"p":"C","s":"9","x":22.0,"y":0.99757},{"p":"C","s":"9","x":22.5,"y":0.99743},{"p":"C","s":"9","x":23.0,"y":0.99737},{"p":"C","s":"9","x":23.5,"y":0.99736},{"p":"C","s":"9","x":24,"y":0.99736},
{"p":"C","s":"11","x":-6,"y":1},{"p":"C","s":"11","x":-4,"y":1},{"p":"C","s":"11","x":-2,"y":1},{"p":"C","s":"11","x":-1,"y":1},{"p":"C","s":"11","x":-0.5,"y":1.00001},{"p":"C","s":"11","x":0,"y":1.00002},{"p":"C","s":"11","x":0.5,"y":1.0},{"p":"C","s":"11","x":1.0,"y":0.99999},{"p":"C","s":"11","x":1.5,"y":0.99996},{"p":"C","s":"11","x":2.0,"y":0.99993},{"p":"C","s":"11","x":2.5,"y":0.99987},{"p":"C","s":"11","x":3.0,"y":0.99983},{"p":"C","s":"11","x":3.5,"y":0.99978},{"p":"C","s":"11","x":4.0,"y":0.99973},{"p":"C","s":"11","x":4.5,"y":0.99969},{"p":"C","s":"11","x":5.0,"y":0.99966},{"p":"C","s":"11","x":5.5,"y":0.99962},{"p":"C","s":"11","x":6.0,"y":0.99959},{"p":"C","s":"11","x":6.5,"y":0.99958},{"p":"C","s":"11","x":7.0,"y":0.99957},{"p":"C","s":"11","x":7.5,"y":0.99959},{"p":"C","s":"11","x":8.0,"y":0.99962},{"p":"C","s":"11","x":8.5,"y":0.99968},{"p":"C","s":"11","x":9.0,"y":0.99973},{"p":"C","s":"11","x":9.5,"y":0.99978},{"p":"C","s":"11","x":10.0,"y":0.99981},{"p":"C","s":"11","x":10.5,"y":0.99982},{"p":"C","s":"11","x":11.0,"y":0.99982},{"p":"C","s":"11","x":11.5,"y":0.99981},{"p":"C","s":"11","x":12.0,"y":0.9998},{"p":"C","s":"11","x":12.5,"y":0.99978},{"p":"C","s":"11","x":13.0,"y":0.99976},{"p":"C","s":"11","x":14.0,"y":0.99975},{"p":"C","s":"11","x":15.0,"y":0.99975},{"p":"C","s":"11","x":15.5,"y":0.99973},{"p":"C","s":"11","x":16.0,"y":0.9997},{"p":"C","s":"11","x":16.5,"y":0.99966},{"p":"C","s":"11","x":17.0,"y":0.9996},{"p":"C","s":"11","x":17.5,"y":0.99953},{"p":"C","s":"11","x":18.0,"y":0.99947},{"p":"C","s":"11","x":18.5,"y":0.99943},{"p":"C","s":"11","x":19.0,"y":0.9994},{"p":"C","s":"11","x":19.5,"y":0.99939},{"p":"C","s":"11","x":20.5,"y":0.99939},{"p":"C","s":"11","x":21.5,"y":0.99939},{"p":"C","s":"11","x":22.5,"y":0.99941},{"p":"C","s":"11","x":23.0,"y":0.99943},{"p":"C","s":"11","x":24,"y":0.99943},
{"p":"D","s":"5","x":-6,"y":1},{"p":"D","s":"5","x":-4,"y":1},{"p":"D","s":"5","x":-3,"y":1},{"p":"D","s":"5","x":-2.5,"y":0.99992},{"p":"D","s":"5","x":-2,"y":0.99977},{"p":"D","s":"5","x":-1.5,"y":0.99928},{"p":"D","s":"5","x":-1,"y":0.99815},{"p":"D","s":"5","x":-0.7,"y":0.99682},{"p":"D","s":"5","x":-0.5,"y":0.99456},{"p":"D","s":"5","x":-0.35,"y":0.99191},{"p":"D","s":"5","x":-0.2,"y":0.98775},{"p":"D","s":"5","x":-0.1,"y":0.98435},{"p":"D","s":"5","x":0,"y":0.98283},{"p":"D","s":"5","x":0.1,"y":0.98472},{"p":"D","s":"5","x":0.25,"y":0.98926},{"p":"D","s":"5","x":0.35,"y":0.99115},{"p":"D","s":"5","x":0.5,"y":0.99134},{"p":"D","s":"5","x":0.7,"y":0.99077},{"p":"D","s":"5","x":1.0,"y":0.99096},{"p":"D","s":"5","x":1.4,"y":0.99115},{"p":"D","s":"5","x":1.8,"y":0.9921},{"p":"D","s":"5","x":2.0,"y":0.99304},{"p":"D","s":"5","x":2.2,"y":0.99274},{"p":"D","s":"5","x":2.5,"y":0.99266},{"p":"D","s":"5","x":2.7,"y":0.99191},{"p":"D","s":"5","x":2.9,"y":0.9921},{"p":"D","s":"5","x":3.1,"y":0.99266},{"p":"D","s":"5","x":3.4,"y":0.99285},{"p":"D","s":"5","x":3.7,"y":0.9935},{"p":"D","s":"5","x":4.0,"y":0.99399},{"p":"D","s":"5","x":4.3,"y":0.99463},{"p":"D","s":"5","x":4.6,"y":0.99512},{"p":"D","s":"5","x":4.9,"y":0.99588},{"p":"D","s":"5","x":5.2,"y":0.99663},{"p":"D","s":"5","x":5.5,"y":0.99758},{"p":"D","s":"5","x":5.8,"y":0.99871},{"p":"D","s":"5","x":6.1,"y":0.99985},{"p":"D","s":"5","x":6.5,"y":1.00117},{"p":"D","s":"5","x":7.0,"y":1.00212},{"p":"D","s":"5","x":7.5,"y":1.00261},{"p":"D","s":"5","x":8.0,"y":1.0028},{"p":"D","s":"5","x":8.5,"y":1.00287},{"p":"D","s":"5","x":9.0,"y":1.00299},{"p":"D","s":"5","x":9.5,"y":1.00299},{"p":"D","s":"5","x":10.0,"y":1.00287},{"p":"D","s":"5","x":10.5,"y":1.0028},{"p":"D","s":"5","x":11.0,"y":1.00265},{"p":"D","s":"5","x":11.5,"y":1.00257},{"p":"D","s":"5","x":12.0,"y":1.00265},{"p":"D","s":"5","x":12.5,"y":1.00276},{"p":"D","s":"5","x":13.0,"y":1.00287},{"p":"D","s":"5","x":13.5,"y":1.00295},{"p":"D","s":"5","x":14.0,"y":1.00287},{"p":"D","s":"5","x":14.5,"y":1.0025},{"p":"D","s":"5","x":15.0,"y":1.00212},{"p":"D","s":"5","x":15.5,"y":1.00174},{"p":"D","s":"5","x":16.0,"y":1.00151},{"p":"D","s":"5","x":16.5,"y":1.00136},{"p":"D","s":"5","x":17.0,"y":1.00129},{"p":"D","s":"5","x":17.5,"y":1.00129},{"p":"D","s":"5","x":18.0,"y":1.00125},{"p":"D","s":"5","x":18.5,"y":1.00144},{"p":"D","s":"5","x":19.0,"y":1.00174},{"p":"D","s":"5","x":19.5,"y":1.00212},{"p":"D","s":"5","x":20.0,"y":1.0025},{"p":"D","s":"5","x":20.5,"y":1.00295},{"p":"D","s":"5","x":21.0,"y":1.00344},{"p":"D","s":"5","x":21.5,"y":1.00393},{"p":"D","s":"5","x":22.0,"y":1.00439},{"p":"D","s":"5","x":22.5,"y":1.00476},{"p":"D","s":"5","x":23.0,"y":1.00514},{"p":"D","s":"5","x":23.5,"y":1.00552},{"p":"D","s":"5","x":24,"y":1.00582},
{"p":"D","s":"7","x":-6,"y":1},{"p":"D","s":"7","x":-4,"y":1},{"p":"D","s":"7","x":-3,"y":1},{"p":"D","s":"7","x":-2,"y":0.99974},{"p":"D","s":"7","x":-1.5,"y":0.99917},{"p":"D","s":"7","x":-1,"y":0.99796},{"p":"D","s":"7","x":-0.7,"y":0.99645},{"p":"D","s":"7","x":-0.5,"y":0.9938},{"p":"D","s":"7","x":-0.3,"y":0.99002},{"p":"D","s":"7","x":-0.15,"y":0.98472},{"p":"D","s":"7","x":-0.05,"y":0.98019},{"p":"D","s":"7","x":0.05,"y":0.97565},{"p":"D","s":"7","x":0.15,"y":0.97111},{"p":"D","s":"7","x":0.25,"y":0.96809},{"p":"D","s":"7","x":0.35,"y":0.96695},{"p":"D","s":"7","x":0.5,"y":0.96847},{"p":"D","s":"7","x":0.7,"y":0.97073},{"p":"D","s":"7","x":0.9,"y":0.97149},{"p":"D","s":"7","x":1.1,"y":0.97244},{"p":"D","s":"7","x":1.3,"y":0.97263},{"p":"D","s":"7","x":1.5,"y":0.97206},{"p":"D","s":"7","x":1.7,"y":0.97225},{"p":"D","s":"7","x":1.9,"y":0.97092},{"p":"D","s":"7","x":2.1,"y":0.97036},{"p":"D","s":"7","x":2.3,"y":0.96884},{"p":"D","s":"7","x":2.5,"y":0.96733},{"p":"D","s":"7","x":2.7,"y":0.96601},{"p":"D","s":"7","x":2.85,"y":0.96733},{"p":"D","s":"7","x":3.0,"y":0.96922},{"p":"D","s":"7","x":3.15,"y":0.973},{"p":"D","s":"7","x":3.3,"y":0.97678},{"p":"D","s":"7","x":3.5,"y":0.98019},{"p":"D","s":"7","x":3.7,"y":0.98321},{"p":"D","s":"7","x":3.9,"y":0.98548},{"p":"D","s":"7","x":4.1,"y":0.98699},{"p":"D","s":"7","x":4.3,"y":0.98888},{"p":"D","s":"7","x":4.5,"y":0.99077},{"p":"D","s":"7","x":4.8,"y":0.99342},{"p":"D","s":"7","x":5.1,"y":0.99569},{"p":"D","s":"7","x":5.4,"y":0.99758},{"p":"D","s":"7","x":5.7,"y":0.99928},{"p":"D","s":"7","x":6.0,"y":1.00042},{"p":"D","s":"7","x":6.4,"y":1.00136},{"p":"D","s":"7","x":6.8,"y":1.00193},{"p":"D","s":"7","x":7.2,"y":1.00231},{"p":"D","s":"7","x":7.6,"y":1.00257},{"p":"D","s":"7","x":8.0,"y":1.00276},{"p":"D","s":"7","x":9.0,"y":1.00299},{"p":"D","s":"7","x":10.0,"y":1.00306},{"p":"D","s":"7","x":11.0,"y":1.00318},{"p":"D","s":"7","x":12.0,"y":1.00325},{"p":"D","s":"7","x":13.0,"y":1.00306},{"p":"D","s":"7","x":14.0,"y":1.00295},{"p":"D","s":"7","x":15.0,"y":1.00306},{"p":"D","s":"7","x":16.0,"y":1.00325},{"p":"D","s":"7","x":17.0,"y":1.00344},{"p":"D","s":"7","x":18.0,"y":1.00363},{"p":"D","s":"7","x":19.0,"y":1.0037},{"p":"D","s":"7","x":20.0,"y":1.00374},{"p":"D","s":"7","x":21.0,"y":1.00363},{"p":"D","s":"7","x":22.0,"y":1.00344},{"p":"D","s":"7","x":23.0,"y":1.00325},{"p":"D","s":"7","x":24,"y":1.00325},
{"p":"D","s":"9","x":-6,"y":1},{"p":"D","s":"9","x":-4,"y":1},{"p":"D","s":"9","x":-3,"y":1},{"p":"D","s":"9","x":-2,"y":0.99985},{"p":"D","s":"9","x":-1.5,"y":0.99947},{"p":"D","s":"9","x":-1,"y":0.99834},{"p":"D","s":"9","x":-0.7,"y":0.99682},{"p":"D","s":"9","x":-0.5,"y":0.99531},{"p":"D","s":"9","x":-0.3,"y":0.99304},{"p":"D","s":"9","x":-0.1,"y":0.98926},{"p":"D","s":"9","x":0,"y":0.98548},{"p":"D","s":"9","x":0.1,"y":0.98019},{"p":"D","s":"9","x":0.2,"y":0.97489},{"p":"D","s":"9","x":0.3,"y":0.96922},{"p":"D","s":"9","x":0.4,"y":0.96355},{"p":"D","s":"9","x":0.55,"y":0.95901},{"p":"D","s":"9","x":0.75,"y":0.95599},{"p":"D","s":"9","x":1.0,"y":0.95372},{"p":"D","s":"9","x":1.2,"y":0.953},{"p":"D","s":"9","x":1.4,"y":0.9541},{"p":"D","s":"9","x":1.6,"y":0.95561},{"p":"D","s":"9","x":1.8,"y":0.95826},{"p":"D","s":"9","x":2.0,"y":0.9609},{"p":"D","s":"9","x":2.2,"y":0.96355},{"p":"D","s":"9","x":2.4,"y":0.9662},{"p":"D","s":"9","x":2.6,"y":0.96922},{"p":"D","s":"9","x":2.8,"y":0.97225},{"p":"D","s":"9","x":3.0,"y":0.97489},{"p":"D","s":"9","x":3.2,"y":0.97754},{"p":"D","s":"9","x":3.4,"y":0.98019},{"p":"D","s":"9","x":3.6,"y":0.98246},{"p":"D","s":"9","x":3.8,"y":0.98435},{"p":"D","s":"9","x":4.0,"y":0.98586},{"p":"D","s":"9","x":4.3,"y":0.98813},{"p":"D","s":"9","x":4.6,"y":0.99002},{"p":"D","s":"9","x":5.0,"y":0.99229},{"p":"D","s":"9","x":5.4,"y":0.9938},{"p":"D","s":"9","x":5.8,"y":0.99512},{"p":"D","s":"9","x":6.2,"y":0.99626},{"p":"D","s":"9","x":6.6,"y":0.99739},{"p":"D","s":"9","x":7.0,"y":0.99834},{"p":"D","s":"9","x":7.5,"y":0.99902},{"p":"D","s":"9","x":8.0,"y":0.99955},{"p":"D","s":"9","x":8.5,"y":0.99992},{"p":"D","s":"9","x":9.0,"y":1.0003},{"p":"D","s":"9","x":9.5,"y":1.0006},{"p":"D","s":"9","x":10.0,"y":1.00079},{"p":"D","s":"9","x":11.0,"y":1.0011},{"p":"D","s":"9","x":12.0,"y":1.00136},{"p":"D","s":"9","x":13.0,"y":1.00155},{"p":"D","s":"9","x":14.0,"y":1.00174},{"p":"D","s":"9","x":15.0,"y":1.00189},{"p":"D","s":"9","x":16.0,"y":1.002},{"p":"D","s":"9","x":17.0,"y":1.00212},{"p":"D","s":"9","x":18.0,"y":1.00223},{"p":"D","s":"9","x":19.0,"y":1.00238},{"p":"D","s":"9","x":20.0,"y":1.00268},{"p":"D","s":"9","x":21.0,"y":1.00295},{"p":"D","s":"9","x":22.0,"y":1.00314},{"p":"D","s":"9","x":23.0,"y":1.00325},{"p":"D","s":"9","x":24,"y":1.00333},
{"p":"D","s":"11","x":-6,"y":1},{"p":"D","s":"11","x":-4,"y":1},{"p":"D","s":"11","x":-2.5,"y":0.99998},{"p":"D","s":"11","x":-2,"y":0.99996},{"p":"D","s":"11","x":-1.5,"y":0.99985},{"p":"D","s":"11","x":-1,"y":0.9994},{"p":"D","s":"11","x":-0.7,"y":0.9989},{"p":"D","s":"11","x":-0.5,"y":0.99815},{"p":"D","s":"11","x":-0.3,"y":0.99682},{"p":"D","s":"11","x":-0.15,"y":0.99456},{"p":"D","s":"11","x":0,"y":0.99002},{"p":"D","s":"11","x":0.1,"y":0.98624},{"p":"D","s":"11","x":0.2,"y":0.98321},{"p":"D","s":"11","x":0.35,"y":0.98019},{"p":"D","s":"11","x":0.5,"y":0.97754},{"p":"D","s":"11","x":0.7,"y":0.97565},{"p":"D","s":"11","x":0.9,"y":0.97433},{"p":"D","s":"11","x":1.1,"y":0.97357},{"p":"D","s":"11","x":1.3,"y":0.97319},{"p":"D","s":"11","x":1.5,"y":0.97331},{"p":"D","s":"11","x":1.7,"y":0.97376},{"p":"D","s":"11","x":2.0,"y":0.97471},{"p":"D","s":"11","x":2.3,"y":0.97603},{"p":"D","s":"11","x":2.6,"y":0.97754},{"p":"D","s":"11","x":2.9,"y":0.97905},{"p":"D","s":"11","x":3.2,"y":0.98057},{"p":"D","s":"11","x":3.5,"y":0.98227},{"p":"D","s":"11","x":3.8,"y":0.98378},{"p":"D","s":"11","x":4.1,"y":0.98529},{"p":"D","s":"11","x":4.4,"y":0.98699},{"p":"D","s":"11","x":4.8,"y":0.98888},{"p":"D","s":"11","x":5.2,"y":0.9904},{"p":"D","s":"11","x":5.6,"y":0.99172},{"p":"D","s":"11","x":6.0,"y":0.99285},{"p":"D","s":"11","x":6.5,"y":0.99399},{"p":"D","s":"11","x":7.0,"y":0.99474},{"p":"D","s":"11","x":7.5,"y":0.99539},{"p":"D","s":"11","x":8.0,"y":0.99588},{"p":"D","s":"11","x":8.5,"y":0.99633},{"p":"D","s":"11","x":9.0,"y":0.99675},{"p":"D","s":"11","x":9.5,"y":0.99701},{"p":"D","s":"11","x":10.0,"y":0.9972},{"p":"D","s":"11","x":11.0,"y":0.99758},{"p":"D","s":"11","x":12.0,"y":0.99788},{"p":"D","s":"11","x":13.0,"y":0.99807},{"p":"D","s":"11","x":14.0,"y":0.99815},{"p":"D","s":"11","x":15.0,"y":0.99822},{"p":"D","s":"11","x":16.0,"y":0.99822},{"p":"D","s":"11","x":17.0,"y":0.99826},{"p":"D","s":"11","x":18.0,"y":0.99834},{"p":"D","s":"11","x":19.0,"y":0.99837},{"p":"D","s":"11","x":20.0,"y":0.99837},{"p":"D","s":"11","x":21.0,"y":0.99826},{"p":"D","s":"11","x":22.0,"y":0.99807},{"p":"D","s":"11","x":23.0,"y":0.99784},{"p":"D","s":"11","x":24,"y":0.99766}
]},
"concat":[
{"title":{"text":"Ocean,\u00a0\u00a0TI: TI_2.0"},"width":1662,"height":1387,"data":{"name":"rows"},"transform":[{"filter":"datum.p === 'A'"}],
"mark":{"type":"line","strokeWidth":15,"strokeCap":"butt","strokeJoin":"round","clip":true},
"encoding":{
"x":{"field":"x","type":"quantitative","scale":{"domain":[-6,24],"nice":false,"zero":false},"axis":{"values":[-5,0,5,10,15,20],"labels":false,"title":null}},
"y":{"field":"y","type":"quantitative","scale":{"domain":[0.99539,1.00238],"nice":false,"zero":false},"axis":{"values":[0.996,0.997,0.998,0.999,1.0,1.001,1.002],"format":".3f","title":"floating_power/fixed_power"}},
"color":{"field":"s","type":"nominal","sort":null,"scale":{"domain":["5","7","9","11"],"range":["#000000","#ff0000","#008000","#0000ff"]},"legend":{"title":null,"orient":"none","legendX":33,"legendY":798,"symbolType":"stroke","symbolSize":17161,"symbolStrokeWidth":15,"labelFontSize":78,"labelFont":"DejaVu Sans","labelColor":"#000000","labelOffset":76,"labelLimit":0,"padding":31,"rowPadding":-23,"fillColor":"rgba(255,255,255,0.8)","strokeColor":"#cccccc","cornerRadius":11,"labelExpr":"datum.label == '11' ? '11 m/s' : datum.label + '\u00a0\u00a0m/s'"}},
"strokeDash":{"field":"s","type":"nominal","sort":null,"scale":{"domain":["5","7","9","11"],"range":[[1,0],[55,24],[15,25],[96,24,15,24]]},"legend":{"title":null,"orient":"none","legendX":33,"legendY":798,"symbolType":"stroke","symbolSize":17161,"symbolStrokeWidth":15,"labelFontSize":78,"labelFont":"DejaVu Sans","labelColor":"#000000","labelOffset":76,"labelLimit":0,"padding":31,"rowPadding":-23,"fillColor":"rgba(255,255,255,0.8)","strokeColor":"#cccccc","cornerRadius":11,"labelExpr":"datum.label == '11' ? '11 m/s' : datum.label + '\u00a0\u00a0m/s'"}}
}},
{"title":{"text":"Ocean,\u00a0\u00a0TI: TI_1.0"},"width":1664,"height":1387,"data":{"name":"rows"},"transform":[{"filter":"datum.p === 'B'"}],
"mark":{"type":"line","strokeWidth":15,"strokeCap":"butt","strokeJoin":"round","clip":true},
"encoding":{
"x":{"field":"x","type":"quantitative","scale":{"domain":[-6,24],"nice":false,"zero":false},"axis":{"values":[-5,0,5,10,15,20],"labels":false,"title":null}},
"y":{"field":"y","type":"quantitative","scale":{"domain":[0.99562,1.00154],"nice":false,"zero":false},"axis":{"values":[0.996,0.997,0.998,0.999,1.0,1.001],"format":".3f","title":null}},
"color":{"field":"s","type":"nominal","sort":null,"scale":{"domain":["5","7","9","11"],"range":["#000000","#ff0000","#008000","#0000ff"]},"legend":null},
"strokeDash":{"field":"s","type":"nominal","sort":null,"scale":{"domain":["5","7","9","11"],"range":[[1,0],[55,24],[15,25],[96,24,15,24]]},"legend":null}
}},
{"title":{"text":"Ocean,\u00a0\u00a0TI: TI_0.25"},"width":1662,"height":1387,"data":{"name":"rows"},"transform":[{"filter":"datum.p === 'C'"}],
"mark":{"type":"line","strokeWidth":15,"strokeCap":"butt","strokeJoin":"round","clip":true},
"encoding":{
"x":{"field":"x","type":"quantitative","scale":{"domain":[-6,24],"nice":false,"zero":false},"axis":{"values":[-5,0,5,10,15,20],"format":"d","title":"x-location (turbine diameters)"}},
"y":{"field":"y","type":"quantitative","scale":{"domain":[0.99549,1.00451],"nice":false,"zero":false},"axis":{"values":[0.996,0.998,1.0,1.002,1.004],"format":".3f","title":"floating_power/fixed_power"}},
"color":{"field":"s","type":"nominal","sort":null,"scale":{"domain":["5","7","9","11"],"range":["#000000","#ff0000","#008000","#0000ff"]},"legend":null},
"strokeDash":{"field":"s","type":"nominal","sort":null,"scale":{"domain":["5","7","9","11"],"range":[[1,0],[55,24],[15,25],[96,24,15,24]]},"legend":null}
}},
{"title":{"text":"Sine,\u00a0\u00a0TI: TI_1.0"},"width":1664,"height":1387,"data":{"name":"rows"},"transform":[{"filter":"datum.p === 'D'"}],
"mark":{"type":"line","strokeWidth":15,"strokeCap":"butt","strokeJoin":"round","clip":true},
"encoding":{
"x":{"field":"x","type":"quantitative","scale":{"domain":[-6,24],"nice":false,"zero":false},"axis":{"values":[-5,0,5,10,15,20],"format":"d","title":"x-location (turbine diameters)"}},
"y":{"field":"y","type":"quantitative","scale":{"domain":[0.9504,1.00824],"nice":false,"zero":false},"axis":{"values":[0.96,0.97,0.98,0.99,1.0],"format":".2f","title":null}},
"color":{"field":"s","type":"nominal","sort":null,"scale":{"domain":["5","7","9","11"],"range":["#000000","#ff0000","#008000","#0000ff"]},"legend":null},
"strokeDash":{"field":"s","type":"nominal","sort":null,"scale":{"domain":["5","7","9","11"],"range":[[1,0],[55,24],[15,25],[96,24,15,24]]},"legend":null}
}}
],
"config":{
"font":"DejaVu Sans",
"view":{"stroke":"#000000","strokeWidth":5},
"axis":{"labelFont":"DejaVu Sans","labelFontSize":78,"labelColor":"#000000","labelLimit":0,"tickColor":"#000000","tickWidth":5,"grid":true,"gridColor":"#b0b0b0","gridWidth":5,"domain":false,"titleFont":"DejaVu Sans","titleFontSize":78,"titleFontWeight":"normal","titleColor":"#000000","titleLimit":0,"labelOverlap":false},
"axisX":{"tickSize":27,"labelPadding":26,"titlePadding":39},
"axisY":{"tickSize":24,"labelPadding":33,"titleX":-304,"titleY":693.5,"titleBaseline":"alphabetic","titleAlign":"center","titleAngle":270},
"legend":{"labelLimit":0},
"title":{"font":"DejaVu Sans","fontSize":94,"fontWeight":"normal","color":"#000000","offset":50,"baseline":"alphabetic","anchor":"middle","limit":0}
}
}
